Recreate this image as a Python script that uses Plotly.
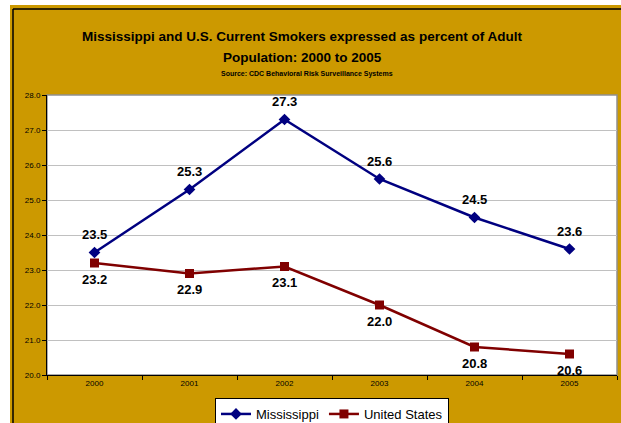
import plotly.graph_objects as go

years = ["2000", "2001", "2002", "2003", "2004", "2005"]
mississippi = [23.5, 25.3, 27.3, 25.6, 24.5, 23.6]
united_states = [23.2, 22.9, 23.1, 22.0, 20.8, 20.6]

GOLD = "#CC9900"
NAVY = "#000080"
MAROON = "#800000"
FONT = "Liberation Sans, Arial, sans-serif"

W, H = 621, 423
ML, MR, MT, MB = 47, 4, 95, 48
PW, PH = W - ML - MR, H - MT - MB


def px_x(p):
    return (p - ML) / PW


def px_y(p):
    return 1 - (p - MT) / PH


fig = go.Figure()
fig.add_trace(go.Scatter(
    x=years, y=mississippi, name="Mississippi", mode="lines+markers",
    line=dict(color=NAVY, width=2.5),
    marker=dict(symbol="diamond", size=9, color=NAVY),
))
fig.add_trace(go.Scatter(
    x=years, y=united_states, name="United States", mode="lines+markers",
    line=dict(color=MAROON, width=2.5),
    marker=dict(symbol="square", size=9, color=MAROON),
))

annotations = []
for i, v in enumerate(mississippi):
    annotations.append(dict(x=i, y=v, xref="x", yref="y", text=f"<b>{v:.1f}</b>",
                            showarrow=False, yshift=18,
                            font=dict(size=13, family=FONT, color="black")))
for i, v in enumerate(united_states):
    annotations.append(dict(x=i, y=v, xref="x", yref="y", text=f"<b>{v:.1f}</b>",
                            showarrow=False, yshift=-16,
                            font=dict(size=13, family=FONT, color="black")))

annotations += [
    dict(text="<b>Mississippi and U.S. Current Smokers expressed as percent of Adult</b>",
         xref="paper", yref="paper", x=px_x(302), y=px_y(36),
         xanchor="center", yanchor="middle", showarrow=False,
         font=dict(size=13.5, family=FONT)),
    dict(text="<b>Population: 2000 to 2005</b>",
         xref="paper", yref="paper", x=px_x(302), y=px_y(57),
         xanchor="center", yanchor="middle", showarrow=False,
         font=dict(size=13.5, family=FONT)),
    dict(text="<b>Source: CDC Behavioral Risk Surveillance Systems</b>",
         xref="paper", yref="paper", x=px_x(307), y=px_y(74),
         xanchor="center", yanchor="middle", showarrow=False,
         font=dict(size=7, family=FONT)),
]

fig.update_layout(
    width=W, height=H,
    paper_bgcolor=GOLD, plot_bgcolor="white",
    margin=dict(l=ML, r=MR, t=MT, b=MB, autoexpand=False),
    font=dict(family=FONT, color="black"),
    showlegend=True,
    legend=dict(orientation="h", x=0.5, xanchor="center",
                yref="container", y=1 - 398 / H, yanchor="top",
                bgcolor="white", bordercolor="black", borderwidth=1,
                font=dict(size=13, family=FONT), itemwidth=30,
                tracegroupgap=0),
    xaxis=dict(type="category", range=[-0.5, 5.5], showgrid=False,
               showline=True, linecolor="black", linewidth=1,
               ticks="outside", tickson="boundaries", ticklen=4, tickcolor="black",
               tickfont=dict(size=8, family=FONT), automargin=False),
    yaxis=dict(range=[20, 28], dtick=1, tickformat=".1f",
               showgrid=True, gridcolor="#C0C0C0", gridwidth=1,
               showline=True, linecolor="black", linewidth=1,
               ticks="outside", ticklen=4, tickcolor="black",
               tickfont=dict(size=8, family=FONT), zeroline=False, automargin=False),
    annotations=annotations,
    shapes=[
        dict(type="rect", xref="paper", yref="paper", x0=0, x1=1, y0=0, y1=1,
             line=dict(color="#909090", width=1.5), layer="below"),
        # white page strips at the top and left of the gold panel
        dict(type="rect", xref="paper", yref="paper",
             x0=px_x(0), x1=px_x(W), y0=px_y(5), y1=px_y(0),
             line=dict(width=0), fillcolor="white", layer="above"),
        dict(type="rect", xref="paper", yref="paper",
             x0=px_x(0), x1=px_x(10), y0=px_y(H), y1=px_y(0),
             line=dict(width=0), fillcolor="white", layer="above"),
        # black panel border (top and left)
        dict(type="line", xref="paper", yref="paper",
             x0=px_x(13), x1=px_x(W), y0=px_y(9), y1=px_y(9),
             line=dict(color="black", width=1.5)),
        dict(type="line", xref="paper", yref="paper",
             x0=px_x(13), x1=px_x(13), y0=px_y(H), y1=px_y(9),
             line=dict(color="black", width=1.5)),
    ],
)

fig.write_html(
    "out.html",
    config={"displayModeBar": False},
    post_script="document.body.style.margin='0';document.body.style.overflow='hidden';",
)
